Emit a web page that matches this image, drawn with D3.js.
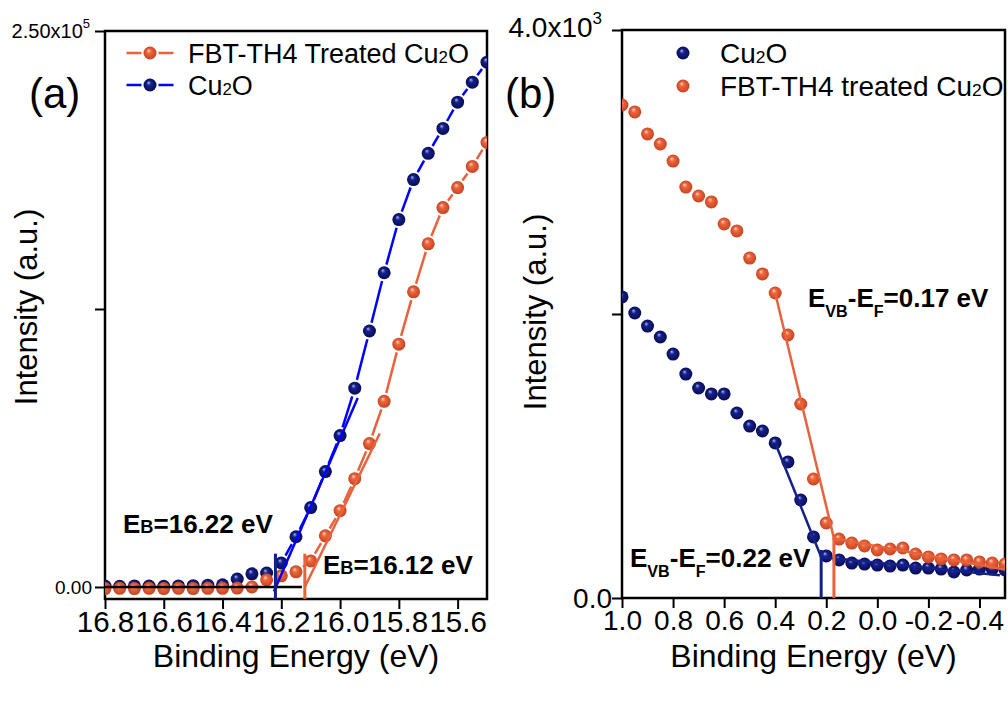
<!DOCTYPE html>
<html>
<head>
<meta charset="utf-8">
<script src="https://cdn.jsdelivr.net/npm/d3@7"></script>
<style>
  html, body { margin: 0; padding: 0; background: #fff; }
  svg { display: block; font-family: "Liberation Sans", Arial, sans-serif; }
</style>
</head>
<body>
<svg id="chart" width="1008" height="702"></svg>
<script>
/* ---------- panel (a): secondary electron cut-off ---------- */
const energyA = [16.80, 16.75, 16.70, 16.65, 16.60, 16.55, 16.50, 16.45, 16.40,
                 16.35, 16.30, 16.25, 16.20, 16.15, 16.10, 16.05, 16.00, 15.95,
                 15.90, 15.85, 15.80, 15.75, 15.70, 15.65, 15.60, 15.55, 15.50];
const cu2oA = [400, 300, 500, 400, 300, 500, 600, 800, 1000,
               3600, 5900, 6300, 10800, 22600, 35700, 51900, 68100, 89400,
               115100, 141300, 165200, 183200, 195000, 206200, 218000, 227000, 236000];
const fbtA  = [-700, -600, -700, -600, -700, -600, -700, -600, -600,
               -500, 0, 3200, 5000, 6800, 11700, 23000, 34300, 48700,
               64500, 83500, 109200, 132700, 154300, 170600, 179600, 189100, 199900];
const fitCu2oA = [[16.225, -2000], [15.94, 85000]];
const fitFbtA  = [[16.12, 0], [15.865, 69000]];
const baseA    = [[16.80, 0], [16.13, 0]];
const onsetA   = [16.22, 16.12];            // cu2o, fbt
const onsetTopA = 15000;
const xMajorA = [16.8, 16.6, 16.4, 16.2, 16.0, 15.8, 15.6];
const xMinorA = [16.7, 16.5, 16.3, 16.1, 15.9, 15.7, 15.5];
const yTicksA = [0, 125000, 250000];

/* ---------- panel (b): valence band edge ---------- */
const energyB = [1.00, 0.95, 0.90, 0.85, 0.80, 0.75, 0.70, 0.65, 0.60, 0.55, 0.50,
                 0.45, 0.40, 0.35, 0.30, 0.25, 0.20, 0.15, 0.10, 0.05, 0.00,
                 -0.05, -0.10, -0.15, -0.20, -0.25, -0.30, -0.35, -0.40, -0.45, -0.50];
const cu2oB = [2120, 2007, 1915, 1838, 1718, 1577, 1479, 1437, 1437, 1303, 1211,
               1176, 1092, 958, 690, 430, 296, 268, 246, 239, 232,
               225, 232, 211, 211, 204, 183, 197, 204, 204, 197];
const fbtB  = [3472, 3423, 3268, 3197, 3077, 2894, 2831, 2789, 2634, 2585, 2394,
               2282, 2148, 1852, 1366, 838, 528, 415, 387, 366, 338,
               345, 352, 310, 289, 275, 268, 268, 254, 246, 239];
const fitCu2oB  = [[0.40, 1092], [0.22, 289]];
const baseCu2oB = [[0.22, 289], [-0.48, 160]];
const fitFbtB   = [[0.40, 2148], [0.17, 420]];
const baseFbtB  = [[0.17, 420], [-0.50, 200]];
const onsetB    = [0.22, 0.17];
const onsetTopB = [338, 420];
const xMajorB = [1.0, 0.8, 0.6, 0.4, 0.2, 0.0, -0.2, -0.4];
const xMinorB = [0.9, 0.7, 0.5, 0.3, 0.1, -0.1, -0.3, -0.5];
const yTicksB = [0, 2000, 4000];

/* ---------- colours ---------- */
const ORANGE = '#e8623c';
const BLUE   = '#0000ff';
const NAVY   = '#13208a';
const FONT   = '"Liberation Sans", Arial, sans-serif';

const svg = d3.select('#chart');
const defs = svg.append('defs');

// shaded sphere markers
function sphereGrad(id, light, base, dark) {
  const g = defs.append('radialGradient').attr('id', id)
    .attr('cx', 0.5).attr('cy', 0.5).attr('r', 0.5)
    .attr('fx', 0.38).attr('fy', 0.3);
  g.append('stop').attr('offset', '0%').attr('stop-color', light);
  g.append('stop').attr('offset', '35%').attr('stop-color', base);
  g.append('stop').attr('offset', '100%').attr('stop-color', dark);
}
sphereGrad('gOrange', '#ffd6c4', '#ec6640', '#c8441e');
sphereGrad('gNavy', '#a9b3ee', '#16208a', '#070c55');

const R = 6.5;

function spheres(g, pts, grad) {
  g.append('g').selectAll('circle')
    .data(pts).join('circle')
    .attr('cx', d => d[0]).attr('cy', d => d[1])
    .attr('r', R).attr('fill', `url(#${grad})`);
}

// Origin-style line with gaps around the symbols
function gappedLine(g, pts, color, gap, width) {
  for (let i = 0; i < pts.length - 1; i++) {
    const [x1, y1] = pts[i], [x2, y2] = pts[i + 1];
    const len = Math.hypot(x2 - x1, y2 - y1);
    if (len <= 2 * gap + 1) continue;
    const ux = (x2 - x1) / len, uy = (y2 - y1) / len;
    g.append('line')
      .attr('x1', x1 + ux * gap).attr('y1', y1 + uy * gap)
      .attr('x2', x2 - ux * gap).attr('y2', y2 - uy * gap)
      .attr('stroke', color).attr('stroke-width', width);
  }
}

function segment(g, pts, color, width) {
  g.append('path')
    .attr('d', d3.line()(pts))
    .attr('fill', 'none').attr('stroke', color).attr('stroke-width', width);
}

function frameAndAxes(P, x, y, majors, minors, yTicks, labPad, labSize) {
  const fmt = d => d.toFixed(1);
  const gx = svg.append('g').attr('transform', `translate(0,${P.bottom})`);
  gx.call(d3.axisBottom(x).tickValues(minors).tickSize(5).tickFormat(''));
  gx.call(d3.axisBottom(x).tickValues(majors).tickSize(10).tickPadding(labPad).tickFormat(fmt));
  gx.selectAll('.domain').remove();
  gx.selectAll('line').attr('stroke', '#000').attr('stroke-width', 2);
  gx.selectAll('text').attr('fill', '#000').style('font-size', labSize + 'px').style('font-family', FONT);

  const gy = svg.append('g').attr('transform', `translate(${P.left},0)`);
  gy.call(d3.axisLeft(y).tickValues(yTicks).tickSize(10).tickFormat(''));
  gy.selectAll('.domain').remove();
  gy.selectAll('line').attr('stroke', '#000').attr('stroke-width', 2);

  svg.append('rect')
    .attr('x', P.left).attr('y', P.top)
    .attr('width', P.right - P.left).attr('height', P.bottom - P.top)
    .attr('fill', 'none').attr('stroke', '#000').attr('stroke-width', 2.5);
}

function clipFor(id, P) {
  defs.append('clipPath').attr('id', id).append('rect')
    .attr('x', P.left).attr('y', P.top)
    .attr('width', P.right - P.left).attr('height', P.bottom - P.top);
  return svg.append('g').attr('clip-path', `url(#${id})`);
}

// label such as E_B=16.22 eV or E_VB-E_F=0.17 eV
function richText(x, y, parts, size) {
  const t = svg.append('text').attr('x', x).attr('y', y)
    .attr('font-weight', 'bold').style('font-size', size + 'px').style('font-family', FONT);
  let shift = 0;
  parts.forEach(([s, kind]) => {
    const ts = t.append('tspan').text(s);
    if (kind === 'sub') {
      ts.style('font-size', (size * 0.62) + 'px').attr('dy', 10 - shift); shift = 10;
    } else if (kind === 'small') {
      ts.style('font-size', (size * 0.7) + 'px').attr('dy', -shift); shift = 0;
    } else {
      ts.attr('dy', -shift); shift = 0;
    }
  });
}

function cuText(g, x, y, prefix, size) {
  const t = g.append('text').attr('x', x).attr('y', y)
    .style('font-size', size + 'px').style('font-family', FONT).attr('fill', '#000');
  t.append('tspan').text(prefix + 'Cu');
  t.append('tspan').text('2').style('font-size', (size * 0.62) + 'px');
  t.append('tspan').text('O');
}

/* ================= panel (a) ================= */
const PA = { left: 105, right: 487, top: 31, bottom: 599 };
const xA = d3.scaleLinear().domain([16.8, 15.5]).range([PA.left, PA.right]);
const yA = d3.scaleLinear().domain([-5400, 250000]).range([PA.bottom, PA.top]);

frameAndAxes(PA, xA, yA, xMajorA, xMinorA, yTicksA, 2, 29.5);

const gA = clipFor('clipA', PA);
const ptsCu2oA = energyA.map((e, i) => [xA(e), yA(cu2oA[i])]);
const ptsFbtA  = energyA.map((e, i) => [xA(e), yA(fbtA[i])]);
gappedLine(gA, ptsCu2oA, BLUE, R + 2, 2.5);
spheres(gA, ptsCu2oA, 'gNavy');
gappedLine(gA, ptsFbtA, ORANGE, R + 2, 2.5);
spheres(gA, ptsFbtA, 'gOrange');
segment(gA, fitCu2oA.map(d => [xA(d[0]), yA(d[1])]), BLUE, 2.5);
segment(gA, fitFbtA.map(d => [xA(d[0]), yA(d[1])]), ORANGE, 2.5);
segment(gA, baseA.map(d => [xA(d[0]), yA(d[1])]), '#000', 2.5);
segment(gA, [[xA(onsetA[0]), yA.range()[0]], [xA(onsetA[0]), yA(onsetTopA)]], NAVY, 3);
segment(gA, [[xA(onsetA[1]), yA.range()[0]], [xA(onsetA[1]), yA(onsetTopA)]], ORANGE, 3);

// y tick labels (a)
svg.append('text').attr('x', 92).attr('y', yA(0) + 7).attr('text-anchor', 'end')
  .style('font-size', '19px').style('font-family', FONT).text('0.00');
{
  const t = svg.append('text').attr('x', 90).attr('y', 38).attr('text-anchor', 'end')
    .style('font-size', '20px').style('font-family', FONT);
  t.append('tspan').text('2.50x10');
  t.append('tspan').text('5').style('font-size', '13px').attr('dy', -10);
}

// legend (a)
const legA = svg.append('g');
[[53, ORANGE, 'gOrange', 'FBT-TH4 Treated '], [85, BLUE, 'gNavy', '']].forEach(([ly, c, gr, pre]) => {
  const xs = [118, 150, 182].map(v => [v, ly]);
  gappedLine(legA, xs, c, R + 2, 2.5);
  legA.append('circle').attr('cx', 150).attr('cy', ly).attr('r', R).attr('fill', `url(#${gr})`);
  cuText(legA, 188, ly + 10, pre, 27);
});

svg.append('text').attr('x', 29).attr('y', 108)
  .style('font-size', '42px').style('font-family', FONT).text('(a)');

richText(123, 533, [['E'], ['B', 'small'], ['=16.22 eV']], 26);
richText(323, 574, [['E'], ['B', 'small'], ['=16.12 eV']], 26);

svg.append('text').attr('transform', 'translate(37,307) rotate(-90)')
  .attr('text-anchor', 'middle').style('font-size', '31px').style('font-family', FONT)
  .text('Intensity (a.u.)');
svg.append('text').attr('x', (PA.left + PA.right) / 2).attr('y', 667)
  .attr('text-anchor', 'middle').style('font-size', '32px').style('font-family', FONT)
  .text('Binding Energy (eV)');

/* ================= panel (b) ================= */
const PB = { left: 622, right: 1005, top: 30, bottom: 598 };
const xB = d3.scaleLinear().domain([1.0, -0.5]).range([PB.left, PB.right]);
const yB = d3.scaleLinear().domain([0, 4000]).range([PB.bottom, PB.top]);

frameAndAxes(PB, xB, yB, xMajorB, xMinorB, yTicksB, 2, 28);

const gB = clipFor('clipB', PB);
spheres(gB, energyB.map((e, i) => [xB(e), yB(cu2oB[i])]), 'gNavy');
spheres(gB, energyB.map((e, i) => [xB(e), yB(fbtB[i])]), 'gOrange');
[fitCu2oB, baseCu2oB].forEach(l => segment(gB, l.map(d => [xB(d[0]), yB(d[1])]), NAVY, 2.5));
[fitFbtB, baseFbtB].forEach(l => segment(gB, l.map(d => [xB(d[0]), yB(d[1])]), ORANGE, 2.5));
segment(gB, [[xB(onsetB[0]), yB(0)], [xB(onsetB[0]), yB(onsetTopB[0])]], NAVY, 3);
segment(gB, [[xB(onsetB[1]), yB(0)], [xB(onsetB[1]), yB(onsetTopB[1])]], ORANGE, 3);

// y tick labels (b)
svg.append('text').attr('x', 612).attr('y', yB(0) + 10).attr('text-anchor', 'end')
  .style('font-size', '28px').style('font-family', FONT).text('0.0');
{
  const t = svg.append('text').attr('x', 602).attr('y', 37).attr('text-anchor', 'end')
    .style('font-size', '28px').style('font-family', FONT);
  t.append('tspan').text('4.0x10');
  t.append('tspan').text('3').style('font-size', '17px').attr('dy', -13);
}

// legend (b)
const legB = svg.append('g');
[[53, 'gNavy', ''], [86, 'gOrange', 'FBT-TH4 treated ']].forEach(([ly, gr, pre]) => {
  legB.append('circle').attr('cx', 683).attr('cy', ly).attr('r', R).attr('fill', `url(#${gr})`);
  cuText(legB, 720, ly + 10, pre, 28);
});

svg.append('text').attr('x', 505).attr('y', 108)
  .style('font-size', '42px').style('font-family', FONT).text('(b)');

richText(808, 307, [['E'], ['VB', 'sub'], ['-E'], ['F', 'sub'], ['=0.17 eV']], 26);
richText(630, 567, [['E'], ['VB', 'sub'], ['-E'], ['F', 'sub'], ['=0.22 eV']], 26);

svg.append('text').attr('transform', 'translate(546,312) rotate(-90)')
  .attr('text-anchor', 'middle').style('font-size', '31px').style('font-family', FONT)
  .text('Intensity (a.u.)');
svg.append('text').attr('x', (PB.left + PB.right) / 2).attr('y', 667)
  .attr('text-anchor', 'middle').style('font-size', '32px').style('font-family', FONT)
  .text('Binding Energy (eV)');
</script>
</body>
</html>
